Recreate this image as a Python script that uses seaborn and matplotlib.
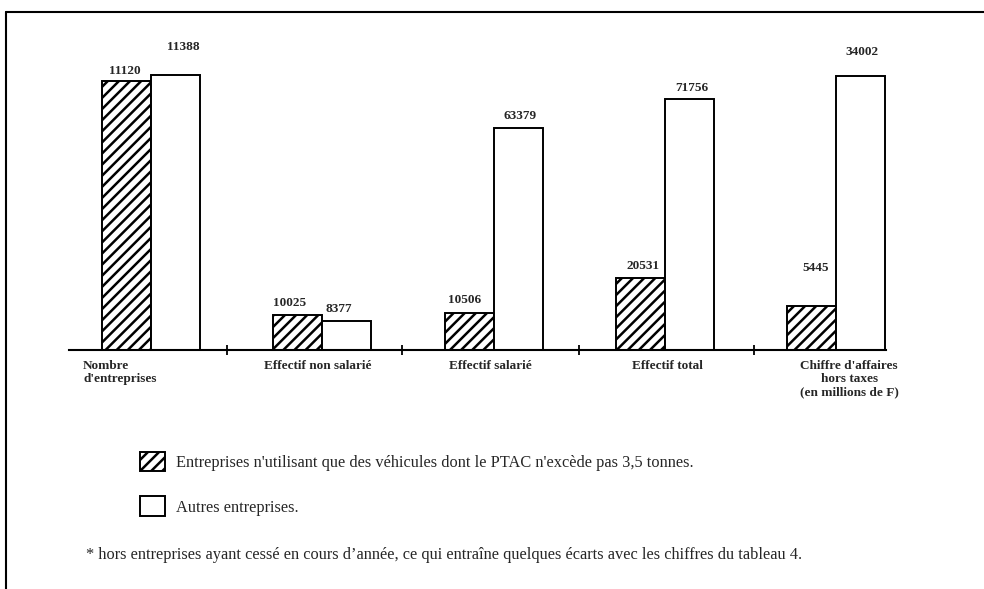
"""
plot.py
Bar chart: entreprises de transport (PTAC <= 3,5 t vs autres), five indicators.
Each indicator has its own vertical scale in the original, so values are
divided by a per-group factor before plotting.
"""

import pandas as pd
import matplotlib
matplotlib.use("Agg")
import matplotlib.pyplot as plt
from matplotlib.patches import Patch
from matplotlib.lines import Line2D
import seaborn as sns

# ── data ─────────────────────────────────────────────────────────────────────

CATEGORIES = [
    "Nombre\nd'entreprises",
    "Effectif non salarié",
    "Effectif salarié",
    "Effectif total",
    "Chiffre d'affaires\nhors taxes\n(en millions de F)",
]
SERIES = [
    "Entreprises n'utilisant que des véhicules dont le PTAC n'excède pas 3,5 tonnes.",
    "Autres entreprises.",
]
PETITS = [11120, 10025, 10506, 20531, 5445]
AUTRES = [11388, 8377, 63379, 71756, 34002]
# per-group scale divisor (each indicator drawn on its own scale)
SCALE_DIV = [1.0, 6.9, 6.9, 6.9, 3.0]

FOOTNOTE = ("* hors entreprises ayant cessé en cours d’année, ce qui entraîne "
            "quelques écarts avec les chiffres du tableau 4.")

# label offsets from bar tops (pixels), purely cosmetic
PAD_PETITS = [10, 12, 13, 12, 38]
PAD_AUTRES = [28, 12, 12, 11, 24]
DX_PETITS = [-1.5, -8.5, -4.5, 2.5, 3.5]
DX_AUTRES = [7.5, -8.5, 1.5, 2.5, 1.5]
CAT_DX = [-68, -5, -3, 3, 13]

# ── build frame ──────────────────────────────────────────────────────────────

rows = []
for i, cat in enumerate(CATEGORIES):
    rows.append({"cat": i, "serie": SERIES[0], "value": PETITS[i],
                 "height": PETITS[i] / SCALE_DIV[i]})
    rows.append({"cat": i, "serie": SERIES[1], "value": AUTRES[i],
                 "height": AUTRES[i] / SCALE_DIV[i]})
df = pd.DataFrame(rows)

# ── plot ─────────────────────────────────────────────────────────────────────

sns.set_style("white")
plt.rcParams["font.family"] = ["Liberation Serif", "DejaVu Serif"]
plt.rcParams["hatch.linewidth"] = 1.8
plt.rcParams["hatch.color"] = "black"

W, H = 984, 589
fig = plt.figure(figsize=(W / 100, H / 100), dpi=100)
ax = fig.add_axes([69 / W, (H - 350) / H, 817 / W, 310 / H])

sns.barplot(
    data=df, x="cat", y="height", hue="serie", hue_order=SERIES,
    palette=["white", "white"], width=0.572, gap=0,
    edgecolor="black", linewidth=1.4, legend=False, ax=ax,
)
for bar in ax.containers[0]:
    bar.set_hatch("///")

ax.set_xlim(-0.479, 4.291)
ax.set_ylim(0, 12836)
ax.set_xlabel("")
ax.set_ylabel("")
ax.set_yticks([])
for side in ["top", "right", "left"]:
    ax.spines[side].set_visible(False)
ax.spines["bottom"].set_linewidth(1.5)
ax.spines["bottom"].set_color("black")

# separator ticks between groups
ax.set_xticks([0.444, 1.465, 2.499, 3.520])
ax.set_xticklabels([])
ax.tick_params(axis="x", direction="inout", length=7, width=1.3,
               color="black", bottom=True)

# value labels
for cont, vals, pads, dxs in [(ax.containers[0], PETITS, PAD_PETITS, DX_PETITS),
                              (ax.containers[1], AUTRES, PAD_AUTRES, DX_AUTRES)]:
    for bar, v, pad, dx in zip(cont, vals, pads, dxs):
        ax.annotate(str(v), xy=(bar.get_x() + bar.get_width() / 2, bar.get_height()),
                    xytext=(dx * 0.72, pad * 0.72), textcoords="offset points",
                    ha="center", va="center", fontsize=9.5, fontweight="bold")

# category labels under the baseline
for i, lab in enumerate(CATEGORIES):
    ax.annotate(lab, xy=(i, 0), xycoords=("data", "axes fraction"),
                xytext=(CAT_DX[i] * 0.72, -7), textcoords="offset points",
                ha="left" if i == 0 else "center", va="top",
                multialignment="left" if i == 0 else "center",
                fontsize=9.5, fontweight="bold", linespacing=1.15)

# legend
handles = [Patch(facecolor="white", edgecolor="black", hatch="///", linewidth=1.4),
           Patch(facecolor="white", edgecolor="black", linewidth=1.4)]
fig.legend(handles, SERIES, loc="upper left",
           bbox_to_anchor=(140 / W, 1 - 451.5 / H), frameon=False,
           borderpad=0, borderaxespad=0,
           fontsize=11.8, handlelength=1.5, handleheight=1.45,
           handletextpad=0.7, labelspacing=1.55)

fig.text(86 / W, 1 - 555 / H, FOOTNOTE, fontsize=11.8, va="center", ha="left")

# page frame (top and left border)
fig.add_artist(Line2D([6 / W, 1.0], [1 - 12 / H, 1 - 12 / H],
                      transform=fig.transFigure, color="black", linewidth=1.5))
fig.add_artist(Line2D([6 / W, 6 / W], [0, 1 - 12 / H],
                      transform=fig.transFigure, color="black", linewidth=1.5))

fig.savefig("out.png", dpi=100)
plt.close(fig)
